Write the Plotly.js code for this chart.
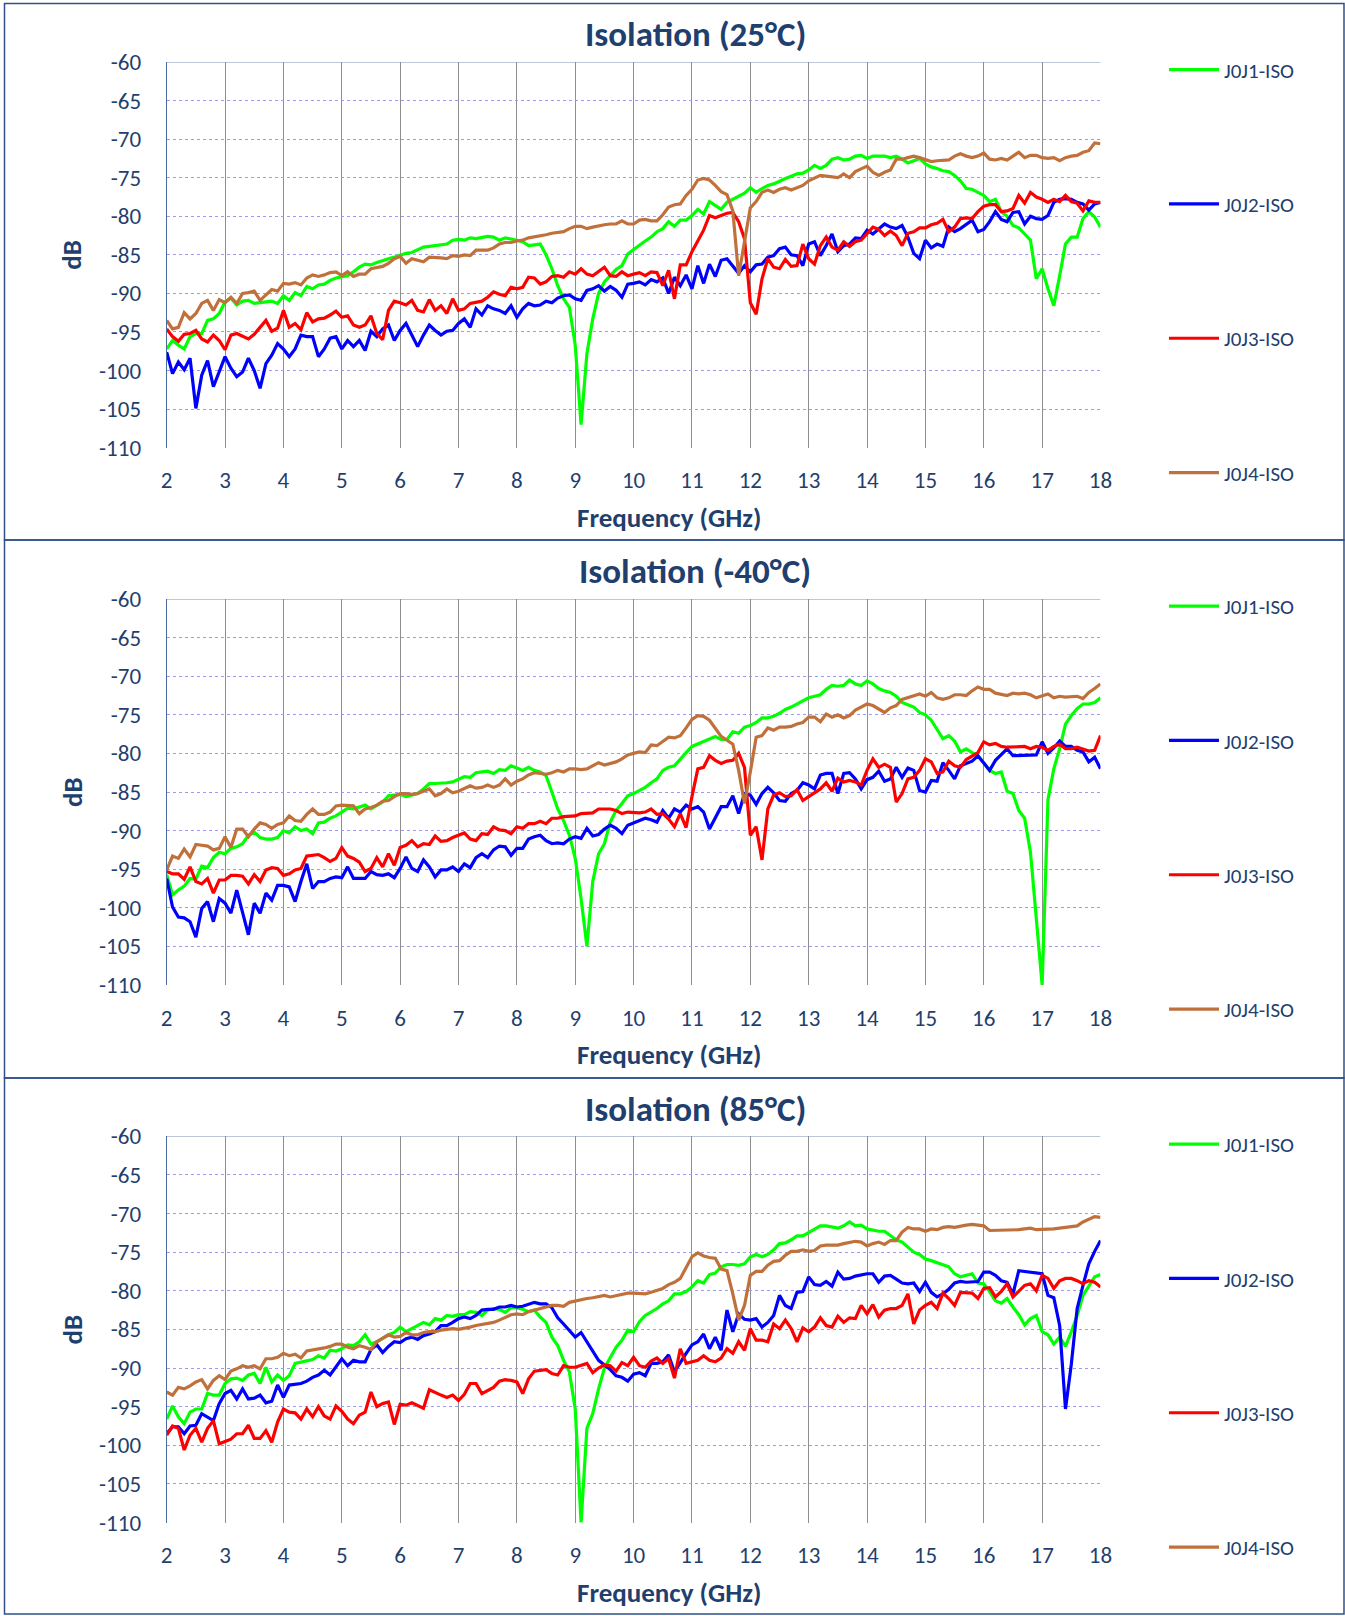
<!DOCTYPE html>
<html>
<head>
<meta charset="utf-8">
<script src="https://cdn.plot.ly/plotly-3.0.1.min.js"></script>
<style>
  html, body { margin: 0; padding: 0; background: #ffffff; }
  #chart { width: 1345px; height: 1616px; }
</style>
</head>
<body>
<div id="chart"></div>
<script>
// ---------------- DATA ----------------
const freq = [
2.0,2.1,2.2,2.3,2.4,2.5,2.6,2.7,2.8,2.9,
3.0,3.1,3.2,3.3,3.4,3.5,3.6,3.7,3.8,3.9,
4.0,4.1,4.2,4.3,4.4,4.5,4.6,4.7,4.8,4.9,
5.0,5.1,5.2,5.3,5.4,5.5,5.6,5.7,5.8,5.9,
6.0,6.1,6.2,6.3,6.4,6.5,6.6,6.7,6.8,6.9,
7.0,7.1,7.2,7.3,7.4,7.5,7.6,7.7,7.8,7.9,
8.0,8.1,8.2,8.3,8.4,8.5,8.6,8.7,8.8,8.9,
9.0,9.1,9.2,9.3,9.4,9.5,9.6,9.7,9.8,9.9,
10.0,10.1,10.2,10.3,10.4,10.5,10.6,10.7,10.8,10.9,
11.0,11.1,11.2,11.3,11.4,11.5,11.6,11.7,11.8,11.9,
12.0,12.1,12.2,12.3,12.4,12.5,12.6,12.7,12.8,12.9,
13.0,13.1,13.2,13.3,13.4,13.5,13.6,13.7,13.8,13.9,
14.0,14.1,14.2,14.3,14.4,14.5,14.6,14.7,14.8,14.9,
15.0,15.1,15.2,15.3,15.4,15.5,15.6,15.7,15.8,15.9,
16.0,16.1,16.2,16.3,16.4,16.5,16.6,16.7,16.8,16.9,
17.0,17.1,17.2,17.3,17.4,17.5,17.6,17.7,17.8,17.9,
18.0];

const seriesNames = ['J0J1-ISO', 'J0J2-ISO', 'J0J3-ISO', 'J0J4-ISO'];
const panelTitles = ['Isolation (25°C)', 'Isolation (-40°C)', 'Isolation (85°C)'];
const xTickVals = [2,3,4,5,6,7,8,9,10,11,12,13,14,15,16,17,18];
const xTickText = ['2','3','4','5','6','7','8','9','10','11','12','13','14','15','16','17','18'];
const yTickVals = [-110,-105,-100,-95,-90,-85,-80,-75,-70,-65,-60];
const yTickText = ['-110','-105','-100','-95','-90','-85','-80','-75','-70','-65','-60'];

// ---- 25 °C ----
const j0j1_25 = [
-97.2,-96.1,-96.7,-97.2,-95.6,-95.2,-95.2,-93.5,-93.3,-92.6,
-91.1,-90.6,-91.5,-91.0,-90.9,-91.3,-91.2,-91.1,-91.0,-91.3,
-90.3,-90.9,-89.9,-90.3,-89.1,-89.4,-88.9,-88.8,-88.3,-88.0,
-87.8,-87.7,-87.2,-86.6,-86.2,-86.3,-86.0,-85.7,-85.5,-85.3,
-85.0,-84.8,-84.7,-84.3,-84.0,-83.9,-83.8,-83.6,-83.6,-83.1,
-83.0,-83.1,-82.8,-82.9,-82.8,-82.6,-82.7,-83.1,-82.8,-82.9,
-83.1,-83.3,-83.8,-83.7,-83.6,-85.0,-86.8,-89.0,-90.7,-91.8,
-96.7,-107.0,-97.8,-93.3,-90.0,-88.5,-87.7,-86.9,-86.4,-84.9,
-84.3,-83.7,-83.2,-82.7,-82.0,-81.6,-80.7,-81.3,-80.5,-80.5,
-79.9,-79.1,-79.7,-78.1,-78.6,-79.1,-78.2,-77.8,-77.5,-77.0,
-76.3,-76.9,-76.4,-76.0,-75.8,-75.4,-75.1,-74.8,-74.5,-74.4,
-74.0,-73.4,-73.8,-73.4,-72.6,-72.4,-72.7,-72.6,-72.2,-72.1,
-72.5,-72.2,-72.2,-72.2,-72.4,-72.2,-72.6,-73.1,-72.8,-72.5,
-73.2,-73.6,-73.8,-74.1,-74.2,-74.7,-75.4,-76.4,-76.5,-76.9,
-77.3,-78.1,-77.8,-79.4,-80.0,-81.2,-81.5,-82.3,-83.1,-88.1,
-86.8,-89.4,-91.6,-87.7,-83.6,-82.7,-82.7,-80.3,-79.4,-80.1,
-81.4];
const j0j2_25 = [
-97.6,-100.4,-98.9,-99.9,-98.4,-104.9,-100.6,-98.7,-102.1,-100.2,
-98.2,-99.7,-100.8,-100.2,-98.4,-100.0,-102.3,-99.1,-98.0,-96.5,
-97.2,-98.2,-97.2,-95.4,-95.6,-95.6,-98.2,-97.2,-95.8,-95.6,
-97.2,-96.1,-96.9,-96.1,-97.4,-94.9,-95.6,-94.6,-94.1,-96.1,
-94.8,-93.9,-95.4,-96.9,-95.4,-94.1,-94.8,-95.4,-94.9,-94.8,
-93.9,-93.3,-94.4,-92.0,-92.8,-91.6,-92.0,-92.2,-92.6,-91.6,
-93.1,-92.0,-91.3,-91.6,-91.5,-91.0,-91.2,-90.6,-90.3,-90.2,
-90.7,-90.9,-89.6,-89.4,-89.0,-89.7,-89.1,-89.6,-90.5,-88.8,
-88.7,-88.5,-88.9,-88.2,-88.5,-88.0,-90.0,-87.9,-89.0,-87.6,
-89.4,-86.4,-88.7,-86.2,-87.8,-85.7,-85.5,-86.4,-87.4,-86.4,
-87.2,-86.3,-86.2,-85.3,-85.1,-84.2,-84.0,-85.0,-85.1,-86.4,
-83.6,-83.3,-85.1,-83.8,-82.3,-84.6,-83.8,-83.6,-82.8,-82.9,
-81.8,-82.3,-81.7,-81.0,-81.4,-81.6,-81.2,-82.7,-84.8,-85.5,
-83.1,-84.1,-83.6,-83.9,-81.4,-82.0,-81.6,-81.1,-80.5,-82.0,
-81.7,-80.7,-79.4,-80.4,-80.7,-79.5,-79.4,-81.0,-80.0,-80.3,
-80.4,-79.9,-78.2,-77.8,-77.7,-77.8,-78.2,-78.4,-79.2,-78.4,
-78.2];
const j0j3_25 = [
-94.6,-95.6,-96.2,-95.3,-95.2,-94.8,-95.9,-96.3,-95.4,-96.1,
-97.3,-95.4,-95.2,-95.6,-95.9,-95.3,-94.4,-93.5,-94.9,-94.5,
-92.2,-94.4,-93.9,-94.7,-92.5,-93.7,-93.3,-93.2,-92.8,-92.3,
-93.1,-92.9,-94.1,-94.4,-94.1,-92.9,-95.2,-96.0,-92.2,-91.0,
-91.2,-91.5,-90.9,-92.2,-92.4,-90.8,-92.2,-91.6,-92.6,-90.7,
-92.2,-92.0,-91.3,-91.1,-91.0,-90.5,-89.8,-90.1,-90.3,-89.2,
-89.4,-89.2,-87.9,-88.0,-88.8,-88.5,-87.8,-87.7,-87.9,-87.2,
-87.5,-86.8,-87.5,-87.7,-87.2,-86.6,-87.7,-87.8,-87.2,-87.7,
-87.5,-87.3,-87.7,-87.2,-87.3,-89.0,-87.0,-90.7,-86.3,-86.3,
-84.6,-83.1,-81.8,-79.9,-80.2,-79.9,-79.6,-79.5,-80.7,-82.9,
-91.2,-92.7,-88.1,-85.5,-86.6,-86.8,-85.6,-86.5,-86.4,-83.6,
-85.5,-86.2,-83.8,-82.7,-84.0,-84.4,-83.3,-83.9,-83.3,-83.1,
-82.2,-81.4,-81.7,-82.5,-81.9,-82.5,-83.8,-82.2,-82.0,-81.5,
-81.5,-81.1,-80.9,-80.4,-82.0,-81.4,-80.3,-80.2,-80.3,-79.4,
-78.7,-78.5,-78.5,-79.4,-79.3,-79.0,-77.3,-78.3,-76.9,-77.5,
-77.8,-78.2,-77.8,-78.1,-77.3,-78.1,-78.3,-79.3,-78.0,-78.2,
-78.2];
const j0j4_25 = [
-93.5,-94.6,-94.4,-92.5,-93.3,-92.6,-91.3,-90.9,-92.2,-90.8,
-91.2,-90.5,-91.3,-90.0,-89.9,-89.7,-90.9,-90.2,-89.5,-89.7,
-88.7,-88.8,-88.6,-88.9,-88.0,-87.6,-87.8,-87.6,-87.3,-87.2,
-87.7,-87.2,-87.8,-87.5,-87.5,-86.8,-86.6,-86.5,-86.1,-85.5,
-85.2,-86.1,-85.5,-85.7,-85.9,-85.3,-85.3,-85.4,-85.5,-85.1,
-85.2,-85.0,-85.1,-84.4,-84.4,-84.4,-84.1,-83.6,-83.4,-83.4,
-83.2,-83.1,-82.8,-82.7,-82.5,-82.4,-82.2,-82.1,-82.0,-81.6,
-81.3,-81.3,-81.6,-81.4,-81.2,-81.1,-81.0,-81.0,-80.6,-81.0,
-81.0,-80.5,-80.4,-80.6,-80.6,-79.8,-78.8,-78.5,-78.4,-77.3,
-76.5,-75.3,-75.1,-75.3,-76.0,-76.8,-77.2,-79.3,-87.7,-83.4,
-78.9,-78.1,-76.9,-76.6,-76.9,-76.5,-76.3,-76.6,-76.3,-76.0,
-75.4,-75.0,-74.7,-74.8,-74.9,-75.0,-74.5,-75.0,-74.2,-73.8,
-73.5,-74.3,-74.7,-74.3,-74.0,-72.6,-72.6,-72.4,-72.2,-72.4,
-72.7,-72.9,-72.8,-72.8,-72.7,-72.2,-71.9,-72.2,-72.4,-72.2,
-71.8,-72.6,-72.7,-72.5,-72.7,-72.2,-71.7,-72.4,-72.1,-72.1,
-72.4,-72.5,-72.4,-72.8,-72.4,-72.2,-72.1,-71.7,-71.5,-70.5,
-70.6];

// ---- -40 °C ----
const j0j1_m40 = [
-95.7,-98.3,-97.7,-97.2,-96.2,-96.3,-94.6,-94.8,-93.5,-92.8,
-93.0,-92.3,-92.1,-91.7,-90.6,-90.2,-90.9,-91.1,-91.1,-90.9,
-90.0,-90.3,-89.5,-90.0,-89.8,-90.4,-89.0,-88.9,-88.4,-88.1,
-87.6,-87.1,-87.2,-86.9,-86.7,-87.2,-86.7,-86.3,-85.5,-85.4,
-85.3,-85.6,-85.4,-85.2,-84.6,-83.9,-83.9,-83.9,-83.8,-83.7,
-83.4,-83.0,-83.1,-82.5,-82.4,-82.3,-82.6,-82.1,-82.2,-81.6,
-81.9,-82.2,-81.8,-82.2,-82.4,-82.9,-85.0,-87.2,-88.7,-90.6,
-93.6,-98.8,-105.0,-96.6,-93.0,-91.7,-88.9,-87.4,-86.5,-85.5,
-85.2,-84.8,-84.4,-83.8,-83.3,-82.2,-81.8,-81.6,-80.7,-79.9,
-79.1,-78.8,-78.5,-78.1,-77.8,-78.2,-78.2,-77.2,-77.4,-76.6,
-76.4,-76.0,-75.4,-75.4,-75.2,-74.8,-74.3,-74.0,-73.6,-73.1,
-72.8,-72.6,-72.4,-71.7,-71.2,-71.3,-71.2,-70.5,-71.0,-71.2,
-70.6,-71.0,-71.6,-71.9,-72.1,-72.6,-73.4,-73.7,-74.0,-74.7,
-75.0,-75.7,-76.9,-78.1,-77.7,-78.4,-79.8,-79.4,-79.9,-80.3,
-81.2,-82.2,-82.6,-82.4,-84.9,-85.2,-87.4,-88.4,-92.8,-101.0,
-110.0,-86.0,-82.0,-79.4,-76.2,-75.1,-74.2,-73.6,-73.6,-73.4,
-72.8];
const j0j2_m40 = [
-96.2,-99.9,-101.2,-101.3,-101.8,-103.8,-100.1,-99.2,-101.8,-98.8,
-99.4,-100.7,-97.7,-100.5,-103.5,-99.4,-100.7,-98.1,-99.0,-97.1,
-97.1,-97.3,-99.2,-96.6,-94.3,-97.5,-96.6,-96.6,-96.2,-96.0,
-96.1,-94.7,-96.2,-96.2,-96.2,-95.3,-95.7,-95.8,-95.6,-96.1,
-94.9,-93.4,-94.9,-95.3,-93.8,-94.7,-96.0,-95.1,-95.1,-94.7,
-95.3,-94.3,-94.8,-93.5,-93.0,-93.5,-92.5,-92.0,-92.1,-93.2,
-92.3,-92.3,-91.1,-90.8,-90.6,-91.3,-91.7,-91.6,-91.7,-91.1,
-90.8,-91.0,-89.7,-90.7,-90.5,-89.8,-89.3,-89.7,-90.4,-89.3,
-89.0,-88.7,-88.4,-88.6,-88.9,-87.4,-88.4,-87.2,-87.6,-86.7,
-87.2,-86.9,-87.6,-89.8,-88.4,-86.9,-86.9,-85.5,-87.8,-85.2,
-85.4,-86.6,-85.2,-84.4,-85.1,-86.1,-86.2,-85.2,-84.8,-83.8,
-84.1,-84.6,-82.8,-82.6,-82.6,-85.2,-82.6,-82.5,-83.3,-84.6,
-83.4,-83.1,-82.3,-83.6,-83.3,-81.8,-83.1,-81.9,-82.2,-84.8,
-85.0,-83.5,-83.6,-81.2,-82.2,-83.3,-81.6,-81.3,-81.0,-80.3,
-81.3,-82.2,-80.9,-80.2,-79.4,-80.3,-80.3,-80.3,-80.2,-80.2,
-78.5,-80.0,-79.3,-78.4,-79.1,-79.1,-79.6,-79.8,-81.1,-80.5,
-82.0];
const j0j3_m40 = [
-95.3,-95.6,-95.6,-96.3,-94.7,-96.6,-96.9,-96.2,-98.1,-96.4,
-96.4,-95.8,-95.8,-95.9,-96.9,-95.7,-96.6,-95.1,-94.8,-94.9,
-95.8,-95.6,-95.1,-94.9,-93.3,-93.2,-93.1,-93.5,-94.0,-93.6,
-92.2,-93.3,-93.6,-94.1,-95.3,-94.9,-93.5,-94.7,-93.0,-94.5,
-92.2,-91.9,-91.3,-92.1,-91.7,-91.8,-90.7,-91.4,-91.3,-90.9,
-90.6,-90.3,-91.1,-91.3,-90.4,-90.5,-89.5,-89.9,-90.0,-90.4,
-89.5,-89.7,-89.1,-89.1,-88.8,-89.1,-88.4,-88.4,-88.2,-88.1,
-88.1,-87.8,-87.8,-87.7,-87.2,-87.2,-87.2,-87.4,-87.8,-87.6,
-87.7,-87.7,-87.6,-87.2,-87.9,-87.8,-88.5,-89.5,-87.8,-89.6,
-85.6,-82.0,-81.8,-80.3,-80.9,-81.3,-81.0,-80.9,-80.0,-81.8,
-90.6,-89.5,-93.8,-87.2,-85.4,-85.1,-85.6,-85.5,-84.7,-86.1,
-85.6,-85.1,-84.6,-83.8,-84.9,-83.2,-83.7,-83.5,-83.7,-84.1,
-82.2,-80.7,-81.8,-81.4,-81.8,-86.3,-85.2,-83.3,-83.1,-82.2,
-80.7,-81.1,-82.6,-82.4,-81.0,-81.6,-81.8,-80.8,-80.3,-79.9,
-78.5,-78.9,-78.7,-79.1,-79.2,-79.2,-79.2,-79.1,-79.4,-79.1,
-79.2,-79.6,-79.1,-78.8,-79.4,-79.4,-79.2,-79.4,-79.7,-79.6,
-77.7];
const j0j4_m40 = [
-95.1,-93.3,-93.6,-92.4,-93.4,-91.8,-91.9,-92.0,-92.5,-92.3,
-90.8,-92.2,-89.8,-89.8,-90.8,-89.8,-89.0,-89.2,-89.7,-89.2,
-89.0,-88.1,-88.7,-88.8,-87.9,-87.2,-87.9,-87.9,-87.6,-86.8,
-86.7,-86.7,-86.8,-87.8,-87.2,-87.0,-86.7,-86.2,-86.1,-85.6,
-85.2,-85.2,-85.3,-85.2,-84.9,-84.6,-85.5,-85.2,-84.6,-85.1,
-84.9,-84.5,-84.2,-84.5,-84.4,-84.1,-84.4,-84.1,-83.3,-84.1,
-83.6,-83.3,-82.8,-82.5,-82.6,-82.7,-82.5,-82.2,-82.4,-82.0,
-82.0,-82.1,-82.0,-81.6,-81.2,-81.5,-81.3,-81.1,-80.7,-80.2,
-80.0,-79.8,-79.9,-78.9,-79.0,-78.4,-77.9,-78.0,-77.7,-76.7,
-75.6,-75.1,-75.2,-75.7,-76.8,-77.8,-78.3,-78.8,-82.2,-86.5,
-82.4,-77.9,-77.7,-76.7,-77.0,-76.6,-76.6,-76.5,-76.2,-76.0,
-75.3,-75.3,-75.9,-74.9,-75.3,-75.0,-75.4,-75.1,-74.4,-74.0,
-73.6,-73.8,-74.2,-74.7,-74.1,-73.8,-73.0,-72.8,-72.6,-72.3,
-72.6,-72.1,-72.8,-73.0,-72.8,-72.4,-72.4,-72.5,-71.9,-71.4,
-71.7,-71.7,-72.2,-72.3,-72.5,-72.2,-72.3,-72.2,-72.4,-72.8,
-72.6,-72.3,-72.8,-72.6,-72.7,-72.6,-72.6,-72.9,-72.1,-71.6,
-71.0];

// ---- 85 °C ----
const j0j1_85 = [
-96.6,-94.9,-96.3,-97.2,-95.7,-95.3,-95.3,-93.3,-93.5,-93.5,
-92.0,-91.4,-91.3,-91.6,-90.9,-90.7,-92.0,-89.9,-91.8,-90.9,
-91.6,-91.0,-89.4,-89.2,-89.1,-88.9,-88.4,-88.7,-87.7,-87.8,
-87.5,-87.0,-87.1,-86.6,-85.7,-86.9,-86.6,-86.1,-85.7,-85.4,
-84.7,-85.3,-84.9,-84.5,-84.1,-84.4,-83.6,-83.8,-83.2,-83.3,
-83.1,-83.1,-82.7,-82.8,-83.2,-82.5,-82.3,-82.4,-82.8,-82.2,
-82.2,-82.4,-82.7,-82.5,-83.4,-84.1,-86.0,-87.1,-89.0,-90.5,
-95.3,-110.0,-97.8,-95.9,-92.7,-90.0,-88.6,-87.3,-86.4,-85.1,
-85.3,-84.0,-83.2,-82.8,-82.3,-81.7,-81.3,-80.4,-80.4,-80.1,
-79.5,-78.7,-79.0,-77.9,-77.7,-76.9,-76.6,-76.6,-76.7,-76.5,
-75.6,-75.3,-75.6,-75.3,-74.7,-73.9,-73.8,-73.4,-72.9,-72.9,
-72.5,-72.1,-71.6,-71.6,-71.8,-71.9,-71.6,-71.1,-71.6,-71.5,
-72.0,-72.2,-72.3,-72.3,-72.8,-73.4,-73.7,-74.4,-75.0,-75.3,
-75.9,-76.1,-76.4,-76.7,-76.9,-77.8,-78.2,-78.0,-77.8,-79.0,
-79.1,-80.1,-81.3,-81.6,-81.0,-82.1,-83.1,-84.4,-83.6,-83.2,
-85.3,-85.7,-86.9,-86.0,-87.2,-85.3,-83.2,-80.6,-79.3,-78.2,
-77.9];
const j0j2_85 = [
-98.5,-97.6,-97.6,-98.5,-97.5,-97.4,-95.9,-96.3,-96.8,-94.6,
-93.3,-92.9,-94.0,-92.7,-94.0,-93.9,-93.5,-94.5,-94.3,-92.2,
-93.8,-92.2,-92.1,-92.0,-91.7,-91.2,-90.9,-90.3,-90.9,-89.9,
-88.8,-89.7,-89.0,-89.2,-89.2,-87.6,-87.0,-88.0,-87.2,-86.6,
-86.7,-86.2,-86.0,-86.3,-85.8,-85.6,-85.3,-84.5,-84.5,-84.1,
-83.6,-83.4,-83.6,-83.2,-82.5,-82.4,-82.4,-82.1,-82.1,-81.9,
-82.1,-82.0,-81.8,-81.5,-81.7,-81.7,-82.2,-83.5,-84.3,-85.1,
-86.0,-85.4,-86.6,-87.8,-89.0,-89.6,-90.2,-91.0,-91.2,-91.7,
-90.8,-90.6,-91.0,-89.4,-89.4,-89.2,-88.3,-90.5,-89.2,-88.1,
-87.0,-86.6,-85.6,-87.5,-86.0,-87.7,-82.5,-85.3,-83.0,-83.7,
-83.8,-83.6,-84.7,-84.1,-83.2,-80.6,-81.9,-82.3,-80.2,-80.1,
-78.2,-79.2,-79.3,-78.8,-79.4,-77.6,-78.5,-78.4,-78.1,-77.9,
-77.8,-77.8,-78.9,-78.1,-78.0,-78.5,-79.0,-79.1,-79.0,-80.1,
-78.9,-80.2,-80.8,-80.4,-79.8,-79.0,-78.8,-78.9,-78.9,-78.8,
-77.6,-77.6,-78.0,-78.7,-78.9,-80.4,-77.4,-77.5,-77.7,-77.8,
-77.8,-80.6,-80.9,-84.5,-95.3,-89.5,-82.3,-79.3,-76.5,-74.9,
-73.5];
const j0j3_85 = [
-98.7,-97.5,-97.8,-100.6,-98.7,-97.8,-99.6,-97.8,-96.8,-99.8,
-99.5,-99.2,-98.5,-98.5,-97.4,-99.1,-99.1,-98.1,-99.6,-97.0,
-95.3,-95.7,-95.8,-96.6,-95.3,-96.3,-95.0,-96.2,-96.6,-94.9,
-95.6,-96.6,-97.2,-96.1,-95.7,-93.1,-95.0,-94.6,-94.4,-97.3,
-94.7,-94.8,-94.5,-94.8,-95.2,-92.8,-93.2,-93.5,-93.8,-93.5,
-94.2,-93.4,-92.0,-92.0,-93.3,-92.9,-92.5,-91.7,-91.5,-91.6,
-91.8,-93.3,-91.4,-90.4,-90.3,-90.2,-90.7,-90.9,-89.7,-89.9,
-89.9,-89.7,-89.4,-90.6,-90.0,-89.6,-89.7,-90.4,-89.3,-89.7,
-88.6,-89.7,-89.9,-89.1,-88.7,-89.4,-88.8,-91.3,-87.5,-89.4,
-89.2,-89.0,-88.4,-89.0,-89.2,-88.7,-87.5,-88.1,-86.6,-87.7,
-84.9,-86.4,-86.4,-86.6,-84.3,-84.9,-83.8,-84.9,-86.6,-84.8,
-85.3,-84.7,-83.5,-84.5,-84.7,-83.3,-84.1,-83.5,-83.6,-81.9,
-83.0,-81.8,-83.4,-82.5,-82.3,-82.3,-81.9,-80.4,-84.3,-82.5,
-81.9,-81.5,-82.3,-80.3,-81.0,-81.9,-80.2,-80.2,-80.3,-81.0,
-79.7,-79.6,-80.8,-80.1,-79.1,-80.8,-80.0,-79.3,-79.1,-80.0,
-78.0,-78.4,-79.7,-78.7,-78.4,-78.4,-78.7,-79.1,-78.7,-78.9,
-79.5];
const j0j4_85 = [
-93.1,-93.5,-92.5,-92.7,-92.3,-91.8,-91.5,-92.7,-91.6,-91.0,
-91.5,-90.4,-90.1,-89.7,-89.9,-89.7,-90.1,-88.8,-88.8,-88.6,
-88.1,-88.4,-88.2,-88.7,-87.8,-87.7,-87.5,-87.4,-87.2,-86.9,
-86.9,-87.3,-87.5,-87.1,-87.3,-87.6,-86.6,-86.1,-85.7,-86.0,
-85.9,-85.4,-85.7,-85.7,-85.4,-85.3,-85.3,-85.1,-85.0,-84.9,
-85.0,-84.9,-84.7,-84.5,-84.4,-84.3,-84.1,-83.8,-83.4,-83.1,
-83.0,-83.1,-82.7,-82.5,-82.3,-82.0,-81.9,-81.9,-82.0,-81.5,
-81.3,-81.1,-81.0,-80.9,-80.8,-80.6,-80.8,-80.6,-80.5,-80.3,
-80.3,-80.3,-80.4,-80.2,-79.9,-79.7,-79.2,-78.9,-78.4,-76.9,
-75.6,-75.1,-75.5,-75.7,-75.8,-77.2,-77.4,-80.4,-83.8,-81.9,
-78.0,-77.5,-77.5,-76.7,-76.2,-76.1,-75.4,-74.9,-74.9,-74.7,
-74.9,-74.8,-74.2,-74.1,-74.1,-74.1,-73.9,-73.7,-73.6,-73.7,
-74.2,-73.9,-73.7,-74.0,-73.5,-73.5,-72.4,-71.8,-72.0,-72.0,
-72.3,-72.0,-72.1,-71.8,-71.7,-71.8,-71.6,-71.5,-71.4,-71.5,
-71.6,-72.2,-72.2,-72.1,-72.1,-72.1,-72.1,-72.0,-71.9,-72.1,
-72.1,-72.0,-72.0,-71.9,-71.8,-71.7,-71.6,-71.1,-70.8,-70.4,
-70.5];

const panelSeries = [
  [j0j1_25, j0j2_25, j0j3_25, j0j4_25],
  [j0j1_m40, j0j2_m40, j0j3_m40, j0j4_m40],
  [j0j1_85, j0j2_85, j0j3_85, j0j4_85]
];
const seriesColors = ['#00FF00', '#0000FF', '#FF0000', '#C0703A'];

// ---------------- LAYOUT / STYLE ----------------
const W = 1345, H = 1616;
const FONT = 'Carlito, Lato, "Open Sans", sans-serif';
const NAVY = '#1F3F6E';
const px = v => v / W;
const py = v => 1 - v / H;

const panelTop = [3.5, 540, 1078];
const panelBot = [540, 1078, 1614];
const plotTop = [62, 599, 1136.2];
const plotBot = [447.7, 985, 1522.6];
const plotL = 166.7, plotR = 1100.5;

const traces = [];
const layout = {
  width: W, height: H,
  margin: {l: 0, r: 0, t: 0, b: 0},
  paper_bgcolor: '#ffffff',
  plot_bgcolor: '#ffffff',
  font: {family: FONT, color: NAVY},
  showlegend: true,
  shapes: [],
  annotations: []
};

for (let p = 0; p < 3; p++) {
  const sfx = p === 0 ? '' : String(p + 1);
  const legendId = 'legend' + sfx;
  for (let s = 0; s < 4; s++) {
    traces.push({
      type: 'scatter', mode: 'lines',
      x: freq, y: panelSeries[p][s],
      name: seriesNames[s],
      xaxis: 'x' + sfx, yaxis: 'y' + sfx,
      legend: legendId,
      legendgroup: 'p' + p + 's' + s,
      line: {color: seriesColors[s], width: 3.2},
      hoverinfo: 'skip'
    });
  }
  layout['xaxis' + sfx] = {
    domain: [px(plotL), px(plotR)],
    anchor: 'y' + sfx,
    range: [2, 18],
    tickmode: 'array', tickvals: xTickVals, ticktext: xTickText,
    showgrid: true, gridcolor: '#8f8f8f', gridwidth: 1,
    zeroline: false, showline: false,
    ticks: 'outside', ticklen: 12, tickcolor: 'rgba(0,0,0,0)',
    tickfont: {family: FONT, size: 23, color: NAVY},
    fixedrange: true
  };
  layout['yaxis' + sfx] = {
    domain: [py(plotBot[p]), py(plotTop[p])],
    anchor: 'x' + sfx,
    range: [-110, -60],
    tickmode: 'array', tickvals: yTickVals, ticktext: yTickText,
    showgrid: true, gridcolor: '#9a9aee', gridwidth: 1, griddash: 'dot',
    zeroline: false,
    showline: true, linecolor: '#4a6aa0', linewidth: 1,
    ticks: 'outside', ticklen: 20, tickcolor: 'rgba(0,0,0,0)',
    tickfont: {family: FONT, size: 23, color: NAVY},
    fixedrange: true
  };
  // top border of plot area
  layout.shapes.push({
    type: 'line', xref: 'x' + sfx, yref: 'y' + sfx,
    x0: 2, x1: 18, y0: -60, y1: -60,
    line: {color: '#7f8fb0', width: 1}
  });
  // panel frame
  layout.shapes.push({
    type: 'rect', xref: 'paper', yref: 'paper',
    x0: px(4.5), x1: px(1344), y0: py(panelBot[p]), y1: py(panelTop[p]),
    line: {color: '#2F5088', width: 1.5}, fillcolor: 'rgba(0,0,0,0)', layer: 'above'
  });
  // titles
  layout.annotations.push({
    xref: 'paper', yref: 'paper', x: px(695), y: py(panelTop[p] + 31),
    xanchor: 'center', yanchor: 'middle', showarrow: false,
    text: '<b>' + panelTitles[p] + '</b>',
    font: {family: FONT, size: 35, color: NAVY}
  });
  layout.annotations.push({
    xref: 'paper', yref: 'paper', x: px(669), y: py(plotBot[p] + 69.5),
    xanchor: 'center', yanchor: 'middle', showarrow: false,
    text: '<b>Frequency (GHz)</b>',
    font: {family: FONT, size: 27, color: NAVY}
  });
  layout.annotations.push({
    xref: 'paper', yref: 'paper', x: px(72), y: py((plotTop[p] + plotBot[p]) / 2),
    xanchor: 'center', yanchor: 'middle', showarrow: false, textangle: -90,
    text: '<b>dB</b>',
    font: {family: FONT, size: 27, color: NAVY}
  });
  layout[legendId] = {
    x: px(1164), xanchor: 'left',
    y: py(panelTop[p] + 46), yanchor: 'top',
    bgcolor: 'rgba(0,0,0,0)', borderwidth: 0,
    traceorder: 'grouped', tracegroupgap: 104,
    itemwidth: 50,
    font: {family: FONT, size: 21, color: NAVY}
  };
}

Plotly.newPlot('chart', traces, layout, {displayModeBar: false, staticPlot: true});
</script>
</body>
</html>
